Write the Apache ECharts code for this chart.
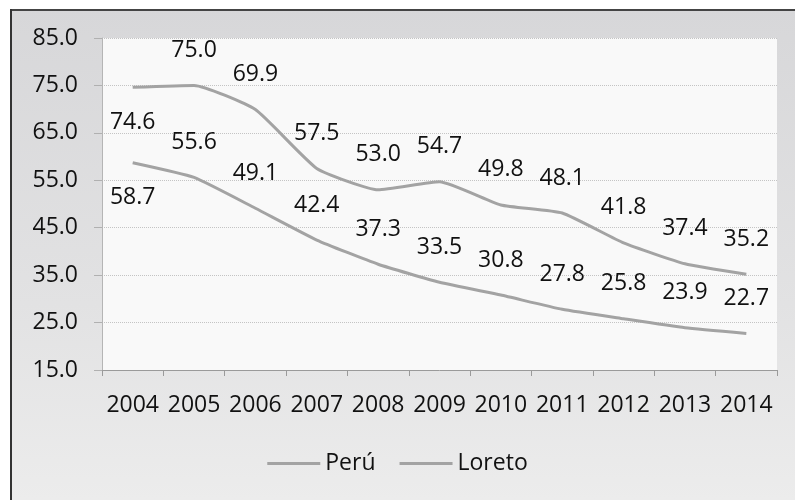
<!DOCTYPE html>
<html>
<head>
<meta charset="utf-8">
<script src="https://cdn.jsdelivr.net/npm/echarts@6/dist/echarts.min.js"></script>
<style>
  html, body { margin: 0; padding: 0; background: #fff; }
  #chart { width: 795px; height: 500px; }
</style>
</head>
<body>
<div id="chart"></div>
<script>
const years = ['2004','2005','2006','2007','2008','2009','2010','2011','2012','2013','2014']
const peru = [58.7, 55.6, 49.1, 42.4, 37.3, 33.5, 30.8, 27.8, 25.8, 23.9, 22.7]
const loreto = [74.6, 75.0, 69.9, 57.5, 53.0, 54.7, 49.8, 48.1, 41.8, 37.4, 35.2]
const yMin = 15, yMax = 85, yStep = 10

const font = 'Open Sans'
const fontSize = 23

// first point of each line has its label under the line
function withLabels(arr) {
  return arr.map((v, i) => i === 0 ? { value: v, label: { position: 'bottom' } } : v)
}

function lineSeries(name, arr) {
  return {
    name: name,
    type: 'line',
    smooth: 0.15,
    symbol: 'circle',
    symbolSize: 1,
    showSymbol: true,
    color: '#a3a3a3',
    itemStyle: { color: 'rgba(0,0,0,0)' },
    lineStyle: { color: '#a3a3a3', width: 3 },
    label: {
      show: true, position: 'top', distance: 23,
      fontSize: fontSize, color: '#111', fontFamily: font,
      formatter: p => Number(p.value).toFixed(1)
    },
    data: withLabels(arr)
  }
}

const chart = echarts.init(document.getElementById('chart'))
chart.setOption({
  backgroundColor: '#ffffff',
  animation: false,
  textStyle: { fontFamily: font },
  graphic: [
    {
      type: 'rect', z: -10, silent: true,
      shape: { x: 12, y: 10, width: 783, height: 490 },
      style: {
        fill: new echarts.graphic.LinearGradient(0, 0, 0, 1, [
          { offset: 0, color: '#d7d7d9' },
          { offset: 0.6, color: '#e2e2e3' },
          { offset: 1, color: '#ececec' }
        ])
      }
    },
    { type: 'line', z: 10, silent: true, shape: { x1: 11, y1: 10, x2: 795, y2: 10 }, style: { stroke: '#444', lineWidth: 2 } },
    { type: 'line', z: 10, silent: true, shape: { x1: 11, y1: 9, x2: 11, y2: 500 }, style: { stroke: '#333', lineWidth: 2 } }
  ],
  grid: {
    show: true,
    left: 102, right: 18, top: 38, bottom: 130,
    backgroundColor: '#f9f9f9',
    borderWidth: 0
  },
  legend: {
    bottom: 20,
    left: 'center',
    itemWidth: 53, itemHeight: 12, itemGap: 24,
    icon: 'path://M0,5 L53,5 L53,8 L0,8 Z',
    itemStyle: { color: '#a3a3a3' },
    textStyle: { fontSize: fontSize, color: '#111', fontFamily: font },
    data: ['Perú', 'Loreto']
  },
  xAxis: {
    type: 'category',
    boundaryGap: true,
    data: years,
    axisLine: { lineStyle: { color: '#9a9a9a', width: 1 } },
    axisTick: { show: true, length: 6, lineStyle: { color: '#9a9a9a' } },
    axisLabel: { interval: 0, margin: 24, fontSize: fontSize, color: '#111', fontFamily: font }
  },
  yAxis: {
    type: 'value',
    min: yMin, max: yMax, interval: yStep,
    axisLine: { show: true, lineStyle: { color: '#b5b5b5', width: 1 } },
    axisTick: { show: true, length: 8, lineStyle: { color: '#b0b0b0' } },
    axisLabel: {
      margin: 24, fontSize: fontSize, color: '#111', fontFamily: font,
      formatter: v => v.toFixed(1)
    },
    splitLine: { show: true, lineStyle: { color: '#c4c4c4', type: 'dotted', width: 1 } }
  },
  series: [
    lineSeries('Perú', peru),
    lineSeries('Loreto', loreto)
  ]
})
</script>
</body>
</html>
